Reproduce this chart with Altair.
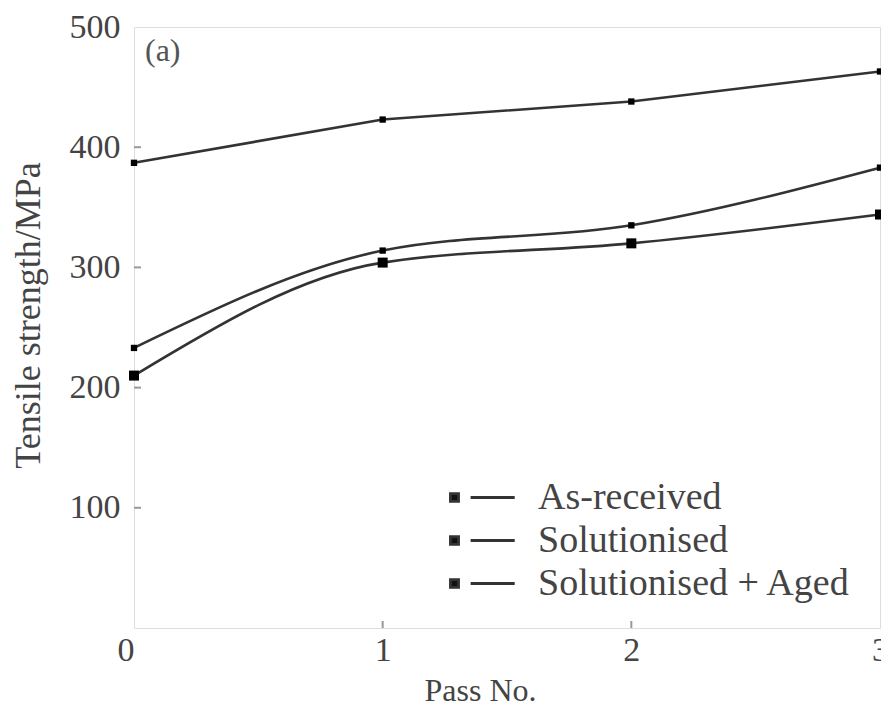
import altair as alt
import pandas as pd

passes = [0, 1, 2, 3]
series_names = ["As-received", "Solutionised", "Solutionised + Aged"]
as_received = [233, 314, 335, 383]
solutionised = [210, 304, 320, 344]
sol_aged = [387, 423, 438, 463]
marker_kinds = ["small", "big", "small"]
marker_sizes = [40, 100]
y_ticks = [100, 200, 300, 400, 500]
x_ticks = [0, 1, 2, 3]
inner_y_ticks = [100, 200, 300, 400]
inner_x_ticks = [1, 2]
panel_label = ["(a)"]

rows = []
for name, kind, vals in zip(series_names, marker_kinds, [as_received, solutionised, sol_aged]):
    for p, v in zip(passes, vals):
        rows.append({"Pass": p, "Strength": v, "Series": name, "Marker": kind})
df = pd.DataFrame(rows)

FONT = "Liberation Serif, Times New Roman, serif"
LINE = "#333333"
FRAME = "#999999"
TXT = "#444444"

xscale = alt.Scale(domain=[0, 3], nice=False, zero=False)
yscale = alt.Scale(domain=[0, 500], nice=False)

legend_path = "M-1.67,-0.22H-1.22V0.22H-1.67Z M-0.55,0H1.9"

x_enc = alt.X("Pass:Q", scale=xscale, axis=alt.Axis(
    values=x_ticks, format="d", title="Pass No.", grid=False, ticks=False, domain=False,
    labelFont=FONT, labelFontSize=34, labelColor=TXT, labelPadding=5,
    labelAlign=alt.ExprRef("datum.value == 0 ? 'right' : 'center'"),
    titleFont=FONT, titleFontSize=32, titleFontWeight="normal", titleColor=TXT,
    titleX=346, titleY=62, titleBaseline="middle"))
y_enc = alt.Y("Strength:Q", scale=yscale, axis=alt.Axis(
    values=y_ticks, title="Tensile strength/MPa", grid=False,
    ticks=False, domain=False,
    labelFont=FONT, labelFontSize=34, labelColor=TXT, labelPadding=14,
    titleFont=FONT, titleFontSize=36, titleFontWeight="normal", titleColor=TXT,
    titleX=-106, titleY=288, titleBaseline="middle", titleAngle=270))

color_enc = alt.Color("Series:N", scale=alt.Scale(domain=series_names, range=[LINE, LINE, LINE]),
                      legend=alt.Legend(title=None, orient="none", legendX=327, legendY=451,
                                        symbolType=legend_path, symbolSize=1296,
                                        symbolStrokeWidth=2.8, symbolFillColor="#111",
                                        symbolStrokeColor=LINE, labelLimit=1000,
                                        labelFont=FONT, labelFontSize=38, labelColor=TXT,
                                        labelOffset=38, rowPadding=4))

base = alt.Chart(df)
lines_low = base.transform_filter(
    alt.FieldOneOfPredicate(field="Series", oneOf=series_names[:2])
).mark_line(strokeWidth=2.6, interpolate="monotone").encode(
    x=x_enc, y=y_enc, color=color_enc)
lines_top = base.transform_filter(
    alt.FieldEqualPredicate(field="Series", equal=series_names[2])
).mark_line(strokeWidth=2.6).encode(
    x=alt.X("Pass:Q", scale=xscale), y=alt.Y("Strength:Q", scale=yscale), color=color_enc)

points = base.mark_square(filled=True, opacity=1, color="#000").encode(
    x=alt.X("Pass:Q", scale=xscale),
    y=alt.Y("Strength:Q", scale=yscale),
    size=alt.Size("Marker:N", scale=alt.Scale(domain=["small", "big"], range=marker_sizes), legend=None),
)

ytick_df = pd.DataFrame({"v": inner_y_ticks})
xtick_df = pd.DataFrame({"v": inner_x_ticks})
yt = alt.Chart(ytick_df).mark_rule(color=FRAME, strokeWidth=2).encode(
    y=alt.Y("v:Q", scale=yscale), x=alt.value(0), x2=alt.value(7))
xt = alt.Chart(xtick_df).mark_rule(color=FRAME, strokeWidth=2).encode(
    x=alt.X("v:Q", scale=xscale), y=alt.value(594), y2=alt.value(601))

label = alt.Chart(pd.DataFrame({"t": panel_label})).mark_text(
    font=FONT, fontSize=32, color="#555", align="left", baseline="middle").encode(
    text="t:N", x=alt.value(11), y=alt.value(24))

chart = alt.layer(yt, xt, lines_low, lines_top, points, label).properties(
    width=746, height=601,
    autosize=alt.AutoSizeParams(type="none"),
    padding={"left": 134, "top": 27, "right": 1, "bottom": 81},
).configure_view(stroke=FRAME, strokeWidth=3.5).configure(background="white")

chart.save("out.html", embed_options={"renderer": "svg", "actions": False})
